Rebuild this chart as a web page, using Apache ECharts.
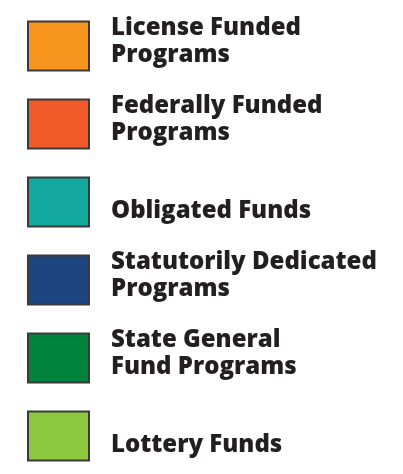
<!DOCTYPE html>
<html>
<head>
<meta charset="utf-8">
<script src="https://cdn.jsdelivr.net/npm/echarts@6/dist/echarts.min.js"></script>
<style>
  html, body { margin: 0; padding: 0; background: #fff; }
  #main { width: 403px; height: 474px; }
</style>
</head>
<body>
<div id="main"></div>
<script>
// legend entries (line breaks as in the original)
var fundNames = [
  'License Funded\nPrograms',
  'Federally Funded\nPrograms',
  '\nObligated Funds',
  'Statutorily Dedicated\nPrograms',
  'State General\nFund Programs',
  '\nLottery Funds'
];
var fundColors = ['#F7941D', '#F15A29', '#13A89E', '#1D4580', '#00843D', '#8DC63F'];

var chart = echarts.init(document.getElementById('main'));

var series = fundNames.map(function (name, i) {
  return {
    name: name,
    type: 'bar',
    data: [],
    itemStyle: { color: fundColors[i], borderColor: '#3a3a3a', borderWidth: 1 }
  };
});

function isOneLine(name) {
  return name.charAt(0) === '\n';
}

// single-line labels get extra bottom padding so every item is the same height
var legendData = fundNames.map(function (name) {
  return {
    name: name,
    textStyle: { padding: isOneLine(name) ? [0, 0, 8, 17] : [0, 0, 0, 17] }
  };
});

chart.setOption({
  animation: false,
  grid: { show: false },
  xAxis: { show: false, type: 'category', data: [] },
  yAxis: { show: false, type: 'value' },
  legend: {
    orient: 'vertical',
    left: 27,
    top: 15,
    height: 470,
    padding: 0,
    icon: 'rect',
    itemWidth: 61,
    itemHeight: 49,
    itemGap: 16,
    selectedMode: false,
    data: legendData,
    // a short empty line under two-line labels lifts them a bit
    formatter: function (name) {
      return isOneLine(name) ? name : name + '\n{s| }';
    },
    textStyle: {
      fontFamily: 'Open Sans',
      fontWeight: 800,
      fontSize: 24,
      lineHeight: 27,
      color: '#231f20',
      rich: {
        s: { fontSize: 1, lineHeight: 8 }
      }
    }
  },
  series: series
});
</script>
</body>
</html>
